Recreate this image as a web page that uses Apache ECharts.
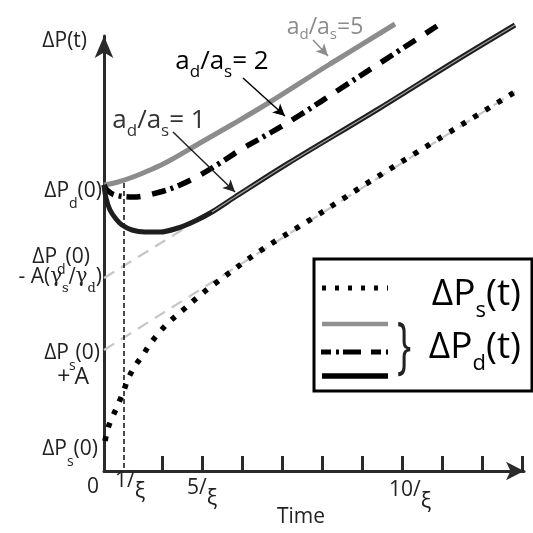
<!DOCTYPE html>
<html>
<head>
<meta charset="utf-8">
<script src="https://cdn.jsdelivr.net/npm/echarts@6/dist/echarts.min.js"></script>
<style>
  html, body { margin: 0; padding: 0; background: #fff; }
  #chart { width: 533px; height: 533px; }
</style>
</head>
<body>
<div id="chart"></div>
<script>
// x: time in tick-gap units, y: pressure in arbitrary units (schematic)
var xTicks = [1.45, 2.45, 3.45, 4.45, 5.45, 6.45, 7.45, 8.45, 9.45, 10.45];
var xLabelPos = [0, 0.65, 2.45, 7.65];
var xLabelText = ['{z|0}', '{n1|1/}{g1|ξ}', '{n5|5/}{g5|ξ}', '{n10|10/}{g10|ξ}'];

var yLabelPos = [28.0, 21.4, 19.4, 11.8, 9.4, 2.15];
var yLabelText = [
  '{m|ΔP}{s|d}{m|(0)}',
  '{m|ΔP}{s|d}{m|(0)}{p12| }',
  '{m|- A(}{g|γ}{gs|s}{g|/γ}{gs|d}{m|)}',
  '{m|ΔP}{s|s}{m|(0)}{p2| }',
  '{pa|+}{pb|A}{p13| }',
  '{m|ΔP}{s|s}{m|(0)}{p4| }'
];

// a_d/a_s = 5
var ratio5 = [[0,28.6],[0.35,28.9],[0.725,29.4],[1.15,30.1],[1.575,30.9],[2.4,32.8],[3.225,34.7],[4.15,36.9],[5.65,40.7],[7.275,44.7]];
// a_d/a_s = 2
var ratio2 = [[0,28.6],[0.075,28.1],[0.275,27.6],[0.725,27.4],[1.4,27.9],[1.9,28.6],[2.4,29.6],[2.9,30.8],[3.4,32.1],[4.15,33.8],[4.9,35.6],[5.975,38.4],[6.9,40.8],[8.325,44.5]];
// a_d/a_s = 1
var ratio1 = [[0,28.6],[0.05,27.3],[0.15,26.1],[0.3,25.2],[0.45,24.6],[0.7,24.1],[1.025,23.9],[1.4,23.9],[1.85,24.3],[2.275,25.0],[2.7,25.9],[3.275,27.4],[4.575,30.7],[6.9,36.3],[8.825,41.1],[10.275,44.6]];
// delta P_s(t)
var pSource = [[0.025,3.0],[0.1,4.3],[0.2,5.3],[0.325,6.4],[0.5,8.1],[0.6,9.2],[0.775,10.5],[0.975,11.6],[1.15,12.7],[1.35,13.7],[1.6,14.8],[1.975,16.1],[2.35,17.4],[2.725,18.6],[3.9,22.0],[5.225,25.3],[6.825,29.4],[10.275,37.9]];
// long-time asymptotes
var asymD = [[0,19.3],[10.275,44.6]];
var asymS = [[0,12.1],[10.275,37.9]];
var oneOverXi = [[0.5,28.8],[0.5,0]];

var arrow1 = [[1.725,33.9],[3.275,27.9]];
var arrow2 = [[3.475,39.3],[4.525,35.5]];
var arrow5 = [[5.225,43.1],[5.6,41.5]];
var note1 = [1.375, 35.0];
var note2 = [2.95, 40.9];
var note5 = [5.525, 43.3];

var FONT = 'Open Sans';

function pick(list, texts, v) {
  var best = 0;
  for (var i = 1; i < list.length; i++) {
    if (Math.abs(list[i] - v) < Math.abs(list[best] - v)) best = i;
  }
  return texts[best];
}

function noteRich(size, sub, pad, color) {
  return {
    a: { fontFamily: FONT, fontSize: size, lineHeight: size, color: color },
    b: { fontFamily: FONT, fontSize: sub, lineHeight: sub, padding: [pad, 0, 0, 0], color: color }
  };
}

function arrowLine(pts, color) {
  return {
    silent: true,
    symbol: ['none', 'arrow'],
    symbolSize: [9, 12],
    label: { show: false },
    lineStyle: { type: 'solid', color: color, width: 1.5 },
    data: [[{ coord: pts[0] }, { coord: pts[1] }]]
  };
}

function notePoint(pt, text, rich, dy) {
  return {
    silent: true,
    symbol: 'circle',
    symbolSize: 1,
    itemStyle: { color: 'rgba(0,0,0,0)' },
    label: { show: true, position: 'inside', offset: [0, dy || 0], formatter: text, rich: rich },
    data: [{ coord: pt }]
  };
}

var chart = echarts.init(document.getElementById('chart'));

var option = {
  animation: false,
  backgroundColor: '#fff',
  textStyle: { fontFamily: FONT },
  grid: { left: 104, right: 9, top: 36, bottom: 62, containLabel: false, outerBoundsMode: 'none' },
  xAxis: {
    type: 'value',
    min: 0,
    max: 10.5,
    name: 'Time',
    nameLocation: 'middle',
    nameGap: 36,
    nameMoveOverlap: false,
    nameTextStyle: { fontFamily: FONT, fontSize: 21, color: '#222', padding: [0, 26, 0, 0] },
    axisLine: { lineStyle: { color: '#2b2b2b', width: 3 }, symbol: ['none', 'arrow'], symbolSize: [14, 18] },
    axisTick: { show: true, inside: true, length: 15, lineStyle: { color: '#2b2b2b', width: 3 }, customValues: xTicks },
    axisLabel: {
      margin: 0,
      showMinLabel: true,
      alignMinLabel: 'right',
      hideOverlap: false,
      customValues: xLabelPos,
      formatter: function (v) { return pick(xLabelPos, xLabelText, v); },
      rich: {
        z: { fontFamily: FONT, fontSize: 21, lineHeight: 22, color: '#222', padding: [6, 5, 0, 0], verticalAlign: 'top' },
        n1: { fontFamily: FONT, fontSize: 21, lineHeight: 16, color: '#222', verticalAlign: 'top' },
        g1: { fontFamily: FONT, fontSize: 22, lineHeight: 22, color: '#222', padding: [10, 0, 0, 0], verticalAlign: 'top' },
        n5: { fontFamily: FONT, fontSize: 21, lineHeight: 22, color: '#222', padding: [7, 0, 0, 0], verticalAlign: 'top' },
        g5: { fontFamily: FONT, fontSize: 22, lineHeight: 22, color: '#222', padding: [17, 0, 0, 0], verticalAlign: 'top' },
        n10: { fontFamily: FONT, fontSize: 21, lineHeight: 22, color: '#222', padding: [9, 0, 0, 0], verticalAlign: 'top' },
        g10: { fontFamily: FONT, fontSize: 22, lineHeight: 22, color: '#222', padding: [20, 0, 0, 0], verticalAlign: 'top' }
      }
    },
    splitLine: { show: false }
  },
  yAxis: {
    type: 'value',
    min: 0,
    max: 43.5,
    name: 'ΔP(t)',
    nameLocation: 'end',
    nameGap: -5,
    nameMoveOverlap: false,
    nameTextStyle: { fontFamily: FONT, fontSize: 21, color: '#222', align: 'right', verticalAlign: 'middle', padding: [0, 17, 0, 0] },
    axisLine: { lineStyle: { color: '#2b2b2b', width: 3 }, symbol: ['none', 'arrow'], symbolSize: [14, 22] },
    axisTick: { show: false },
    axisLabel: {
      margin: 2,
      hideOverlap: false,
      customValues: yLabelPos,
      formatter: function (v) { return pick(yLabelPos, yLabelText, v); },
      rich: {
        m: { fontFamily: FONT, fontSize: 21, lineHeight: 22, color: '#222' },
        s: { fontFamily: FONT, fontSize: 14, lineHeight: 14, color: '#222', padding: [26, 0, 0, 0] },
        g: { fontFamily: 'DejaVu Serif', fontSize: 20, lineHeight: 22, color: '#222' },
        gs: { fontFamily: 'DejaVu Serif', fontSize: 13, lineHeight: 13, color: '#222', padding: [24, 0, 0, 0] },
        pa: { fontFamily: FONT, fontSize: 23, lineHeight: 22, color: '#222', padding: [0, 4, 0, 0] },
        pb: { fontFamily: FONT, fontSize: 23, lineHeight: 22, color: '#222' },
        p2: { width: 2 },
        p4: { width: 4 },
        p12: { width: 12 },
        p13: { width: 13 }
      }
    },
    splitLine: { show: false }
  },
  series: [
    {
      type: 'line', data: asymD, symbol: 'none', clip: false, silent: true, z: 1,
      lineStyle: { color: '#c6c6c6', width: 2.2, type: [12, 8] }
    },
    {
      type: 'line', data: asymS, symbol: 'none', clip: false, silent: true, z: 1,
      lineStyle: { color: '#c6c6c6', width: 2.2, type: [12, 8] }
    },
    {
      type: 'line', data: oneOverXi, symbol: 'none', clip: false, silent: true, z: 2,
      lineStyle: { color: '#111', width: 1.5, type: [5, 3] }
    },
    {
      name: 'a5', type: 'line', data: ratio5, symbol: 'none', smooth: 0.35, clip: false, silent: true, z: 3,
      lineStyle: { color: '#8c8c8c', width: 5 },
      markLine: arrowLine(arrow5, '#8c8c8c'),
      markPoint: notePoint(note5, '{a|a}{b|d}{a|/a}{b|s}{a|=5}', noteRich(23, 15, 16, '#8c8c8c'), -11)
    },
    {
      name: 'a2', type: 'line', data: ratio2, symbol: 'none', smooth: 0.35, clip: false, silent: true, z: 3,
      lineStyle: { color: '#000', width: 5.5, type: [14, 5, 3, 5, 14, 12] },
      markLine: arrowLine(arrow2, '#000'),
      markPoint: notePoint(note2, '{a|a}{b|d}{a|/a}{b|s}{a|= 2}', noteRich(26, 17, 20, '#000'))
    },
    {
      name: 'a1', type: 'line', data: ratio1, symbol: 'none', smooth: 0.35, clip: false, silent: true, z: 3,
      lineStyle: { color: '#1e1e1e', width: 5 },
      markLine: arrowLine(arrow1, '#222'),
      markPoint: notePoint(note1, '{a|a}{b|d}{a|/a}{b|s}{a|= 1}', noteRich(26, 17, 20, '#333'))
    },
    {
      type: 'line', data: ratio1.slice(10), symbol: 'none', smooth: 0.35, clip: false, silent: true, z: 4,
      lineStyle: { color: '#a0a0a0', width: 1.2 }
    },
    {
      name: 'ps', type: 'line', data: pSource, symbol: 'none', smooth: 0.35, clip: false, silent: true, z: 3,
      lineStyle: { color: '#000', width: 5.5, type: [5, 9] }
    }
  ],
  graphic: [
    {
      type: 'group', z: 100,
      children: [
        { type: 'rect', shape: { x: 314, y: 259, width: 218, height: 132 }, style: { fill: '#fff', stroke: '#000', lineWidth: 3 } },
        { type: 'line', shape: { x1: 322, y1: 288, x2: 388, y2: 288 }, style: { stroke: '#000', lineWidth: 5, lineDash: [4, 9] } },
        { type: 'line', shape: { x1: 322, y1: 324, x2: 388, y2: 324 }, style: { stroke: '#909090', lineWidth: 4.5 } },
        { type: 'line', shape: { x1: 321, y1: 352, x2: 388, y2: 352 }, style: { stroke: '#000', lineWidth: 5, lineDash: [10, 5, 3, 4, 18, 10] } },
        { type: 'line', shape: { x1: 322, y1: 376, x2: 388, y2: 376 }, style: { stroke: '#000', lineWidth: 5.5 } },
        {
          type: 'text',
          style: {
            x: 521, y: 294, align: 'right', verticalAlign: 'middle',
            text: '{m|ΔP}{s|s}{m|(t)}',
            rich: {
              m: { fontFamily: FONT, fontSize: 37, lineHeight: 38, fill: '#000' },
              s: { fontFamily: FONT, fontSize: 22, lineHeight: 22, padding: [34, 0, 0, 0], fill: '#000' }
            }
          }
        },
        {
          type: 'text',
          style: {
            x: 521, y: 347, align: 'right', verticalAlign: 'middle',
            text: '{m|ΔP}{s|d}{m|(t)}',
            rich: {
              m: { fontFamily: FONT, fontSize: 37, lineHeight: 38, fill: '#000' },
              s: { fontFamily: FONT, fontSize: 22, lineHeight: 22, padding: [34, 0, 0, 0], fill: '#000' }
            }
          }
        },
        {
          type: 'text', x: 404, y: 349, scaleY: 1.65,
          style: { x: 0, y: 0, align: 'center', verticalAlign: 'middle', text: '}', fontFamily: FONT, fontSize: 38, fill: '#222' }
        }
      ]
    }
  ]
};

chart.setOption(option);
</script>
</body>
</html>
